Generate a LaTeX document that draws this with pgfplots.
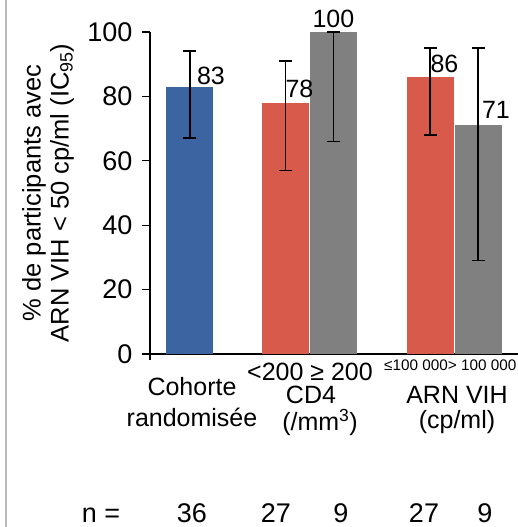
\documentclass[border=0pt]{standalone}
\usepackage{pgfplots}
\pgfplotsset{compat=1.18}
\usepackage{fontspec}
\setmainfont{Liberation Sans}

\definecolor{cohortblue}{RGB}{59,100,160}
\definecolor{lowred}{RGB}{216,90,75}
\definecolor{highgray}{RGB}{128,128,128}

\newcommand{\fs}[1]{\fontsize{#1}{#1}\selectfont}

\pgfplotsset{
  ci/.style={
    error bars/.cd, y dir=both, y explicit,
    error bar style={line width=1.7pt, black},
    error mark options={rotate=90, mark size=6.5pt, line width=1.7pt, black},
  },
}

\begin{document}
\begin{tikzpicture}[x=1pt,y=1pt]
\useasboundingbox (0,0) rectangle (518,-527);
\fill[white] (0,0) rectangle (518,-527);
\draw[gray!55, line width=1.2pt] (6,0) -- (6,-527);

\begin{axis}[
  at={(150pt,-354pt)}, anchor=south west,
  scale only axis, width=368pt, height=322pt,
  xmin=0, xmax=7.667, ymin=0, ymax=100,
  axis x line=bottom, axis y line=left,
  axis line style={-, line width=1.1pt, black},
  xtick=\empty,
  ytick={0,20,40,60,80,100},
  tick align=outside, major tick length=8pt,
  tick style={line width=1.1pt, black},
  /pgf/number format/assume math mode=true,
  yticklabel style={font=\fs{27}, xshift=-6pt},
  ylabel={\% de participants avec\\ARN VIH < 50 cp/ml (IC\textsubscript{95})},
  ylabel style={at={(axis description cs:-0.277,0.5)}, anchor=center,
    align=center, font=\fontsize{25.5}{28}\selectfont},
  ybar, bar shift=0pt, bar width=0.98,
  clip=false,
  nodes near coords,
]
% randomised cohort
\addplot[draw=none, fill=cohortblue,
  nodes near coords style={font=\fs{25}, anchor=west, inner sep=0pt, xshift=7pt, yshift=11pt},
  ci]
  coordinates {(0.83,83) += (0,11) -= (0,16)};
% CD4 < 200
\addplot[draw=none, fill=lowred,
  nodes near coords style={font=\fs{25}, anchor=west, inner sep=0pt, xshift=0pt, yshift=14pt},
  ci]
  coordinates {(2.82,78) += (0,13) -= (0,21)};
% CD4 >= 200
\addplot[draw=none, fill=highgray,
  nodes near coords style={font=\fs{25}, anchor=center, inner sep=0pt, xshift=0pt, yshift=13pt},
  ci]
  coordinates {(3.82,100) += (0,0) -= (0,34)};
% viral load <= 100 000
\addplot[draw=none, fill=lowred,
  nodes near coords style={font=\fs{25}, anchor=west, inner sep=0pt, xshift=0pt, yshift=13pt},
  ci]
  coordinates {(5.84,86) += (0,9) -= (0,18)};
% viral load > 100 000
\addplot[draw=none, fill=highgray,
  nodes near coords style={font=\fs{25}, anchor=west, inner sep=0pt, xshift=3.5pt, yshift=15pt},
  ci]
  coordinates {(6.84,71) += (0,24) -= (0,42)};
\end{axis}
% small extension of the y axis below zero
\draw[line width=1.1pt] (150,-354) -- (150,-360);

% category labels
\node[font=\fs{25}, align=center] at (192,-402) {Cohorte\\[6pt]randomisée};
\node[font=\fs{25}] at (310,-372) {<200 ≥ 200};
\node[font=\fs{25}] at (311,-395) {CD4};
\node[font=\fs{25}] at (320,-422) {(/mm\textsuperscript{3})};
\node[font=\fs{15.3}, anchor=west, inner sep=0pt] at (384,-365) {≤100 000> 100 000};
\node[font=\fs{25}] at (457,-395) {ARN VIH};
\node[font=\fs{25}] at (457,-422) {(cp/ml)};

% group sizes
\begin{scope}[every node/.style={font=\fs{27}, anchor=base, inner sep=0pt}]
\node at (101,-522) {n =};
\node at (192,-522) {36};
\node at (276,-522) {27};
\node at (341,-522) {9};
\node at (424,-522) {27};
\node at (485,-522) {9};
\end{scope}
\end{tikzpicture}
\end{document}
